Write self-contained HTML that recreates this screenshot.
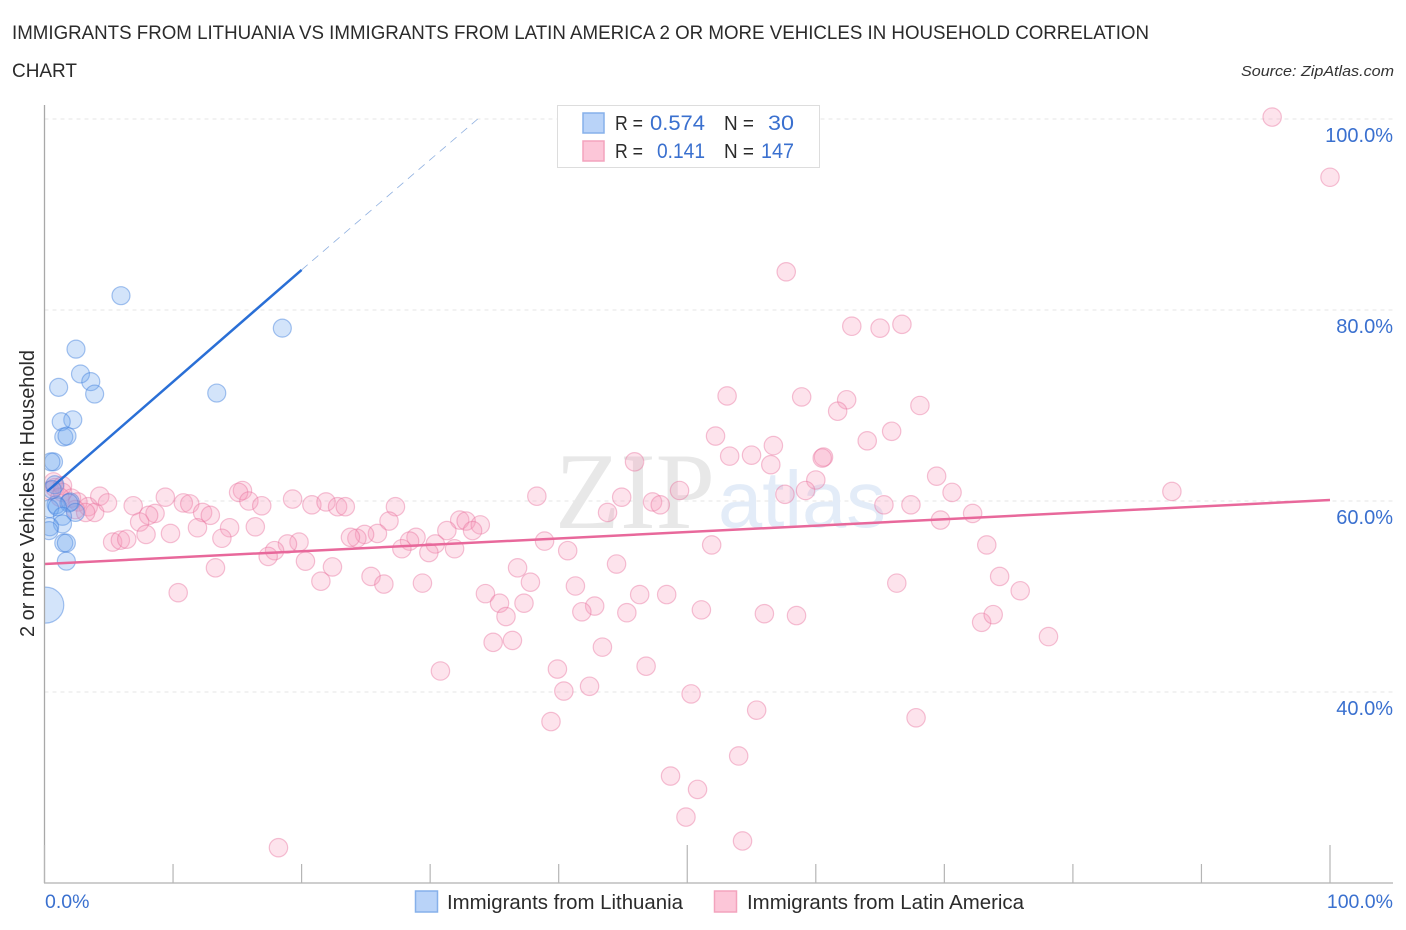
<!DOCTYPE html>
<html lang="en">
<head>
<meta charset="utf-8">
<title>Immigrants from Lithuania vs Immigrants from Latin America correlation chart</title>
<style>
html,body{margin:0;padding:0;background:#fff;}
svg{display:block;font-family:"Liberation Sans",sans-serif;}
</style>
</head>
<body>
<svg id="chart" xmlns="http://www.w3.org/2000/svg" width="1406" height="930" viewBox="0 0 1406 930">
  <defs><clipPath id="plot-clip"><rect x="44.5" y="100" width="1349" height="783"/></clipPath></defs>
  <text x="12" y="39" font-size="19.5" fill="#2b2b2b" textLength="1137" lengthAdjust="spacingAndGlyphs">IMMIGRANTS FROM LITHUANIA VS IMMIGRANTS FROM LATIN AMERICA 2 OR MORE VEHICLES IN HOUSEHOLD CORRELATION</text>
  <text x="12" y="77" font-size="19.5" fill="#2b2b2b" textLength="65" lengthAdjust="spacingAndGlyphs">CHART</text>
  <text x="1241" y="76" font-size="15" font-style="italic" fill="#333" textLength="153" lengthAdjust="spacingAndGlyphs">Source: ZipAtlas.com</text>
  <g id="grid"></g>
  <g>
    <text x="555" y="528" font-family="'Liberation Serif',serif" font-size="109" fill="#e8e8e8" textLength="160" lengthAdjust="spacingAndGlyphs">ZIP</text>
    <text x="718" y="527" font-size="80" fill="#e3ecf8" textLength="168" lengthAdjust="spacingAndGlyphs">atlas</text>
  </g>
  <g id="latin-points" clip-path="url(#plot-clip)"></g>
  <g id="lith-points" clip-path="url(#plot-clip)"></g>
  <g id="trends"></g>
  <g id="axes"></g>
  <text transform="translate(34,637) rotate(-90)" font-size="20" fill="#2b2b2b" textLength="287" lengthAdjust="spacingAndGlyphs">2 or more Vehicles in Household</text>
  <g>
    <rect x="557.5" y="105.5" width="262" height="62" fill="#fff" stroke="#ddd"/>
    <rect x="583" y="113" width="21" height="20" fill="#b9d3f8" stroke="#86b0ea" stroke-width="1.5"/>
    <rect x="583" y="141" width="21" height="20" fill="#fcc6d8" stroke="#f3a3bd" stroke-width="1.5"/>
    <g font-size="20" fill="#2b2b2b">
      <text x="615" y="130" textLength="28" lengthAdjust="spacingAndGlyphs">R =</text>
      <text x="724" y="130" textLength="30" lengthAdjust="spacingAndGlyphs">N =</text>
      <text x="615" y="158" textLength="28" lengthAdjust="spacingAndGlyphs">R =</text>
      <text x="724" y="158" textLength="30" lengthAdjust="spacingAndGlyphs">N =</text>
    </g>
    <g font-size="21" fill="#3a70cf">
      <text x="650" y="130" textLength="55" lengthAdjust="spacingAndGlyphs">0.574</text>
      <text x="768" y="130" textLength="26" lengthAdjust="spacingAndGlyphs">30</text>
      <text x="657" y="158" textLength="48" lengthAdjust="spacingAndGlyphs">0.141</text>
      <text x="761" y="158" textLength="33" lengthAdjust="spacingAndGlyphs">147</text>
    </g>
  </g>
  <g>
    <g>
      <rect x="415.5" y="891" width="22" height="21" fill="#b9d3f8" stroke="#86b0ea" stroke-width="1.5"/>
      <text x="447" y="909" font-size="20" fill="#2b2b2b" textLength="236" lengthAdjust="spacingAndGlyphs">Immigrants from Lithuania</text>
    </g>
    <g>
      <rect x="714.5" y="891" width="22" height="21" fill="#fcc6d8" stroke="#f3a3bd" stroke-width="1.5"/>
      <text x="747" y="909" font-size="20" fill="#2b2b2b" textLength="277" lengthAdjust="spacingAndGlyphs">Immigrants from Latin America</text>
    </g>
  </g>
</svg>
<script>
const xTickValues = [0,10,20,30,40,50,60,70,80,90,100];
const xTickLabels = ["0.0%","100.0%"];
const xLabelValues = [0,100];
const yTickValues = [100,80,60,40];
const yTickLabels = ["100.0%","80.0%","60.0%","40.0%"];

const lithX = [5.95,18.5,2.45,2.8,3.6,3.9,1.1,13.4,2.2,1.3,1.5,1.75,0.7,0.5,0.8,0.9,2.0,1.9,2.4,0.4,1.0,1.4,1.4,0.4,0.35,1.5,1.7,1.7,0.1,0.6];
const lithY = [81.5,78.1,75.9,73.3,72.5,71.2,71.9,71.3,68.5,68.3,66.7,66.8,64.1,64.1,61.7,59.6,59.9,59.8,58.8,59.2,59.4,58.4,57.6,57.3,56.9,55.6,55.6,53.7,49.1,61.2];
const lithWeight = [1,1,1,1,1,1,1,1,1,1,1,1,1,1,1,1,1,1,1,1,1,1,1,1,1,1,1,1,4,1];

const latinX = [95.5,100,57.7,62.8,65,66.7,53.1,58.9,62.4,61.7,68.1,52.2,65.9,64,56.7,55,53.3,60.6,60.5,56.5,45.9,69.4,60,49.4,57.6,59.2,70.6,87.7,44.9,47.3,47.9,43.8,38.3,65.3,67.4,69.7,72.2,
0.7,0.4,0.8,1.4,1.4,2.1,2.6,3.4,3.9,4.3,4.9,6.9,9.4,8.6,8.1,7.4,7.9,5.3,5.9,6.4,9.8,10.8,11.3,12.3,12.9,11.9,14.4,13.8,13.3,10.4,2.4,3.2,1.2,
15.4,15.1,15.9,16.9,16.4,19.3,20.8,21.9,22.8,23.4,27.3,26.8,25.9,24.9,24.3,23.8,19.8,18.9,17.9,17.4,20.3,22.4,21.5,25.4,26.4,29.4,32.3,32.8,33.9,31.3,33.3,28.9,28.4,27.8,30.4,29.9,31.9,38.9,36.8,37.8,34.3,35.4,37.3,35.9,34.9,36.4,
40.7,44.5,41.3,42.8,41.8,45.3,46.3,48.4,51.1,51.9,56,58.5,43.4,39.9,46.8,30.8,40.4,42.4,50.3,39.4,55.4,54,48.7,50.8,49.9,54.3,18.2,67.8,66.3,73.3,74.3,72.9,73.8,75.9,78.1];
const latinY = [100.2,93.9,84,78.3,78.1,78.5,71,70.9,70.6,69.4,70,66.8,67.3,66.3,65.8,64.8,64.7,64.6,64.5,63.8,64.1,62.6,62.2,61.1,60.7,61.1,60.9,61,60.4,59.9,59.6,58.8,60.5,59.6,59.6,58,58.7,
62,61.1,61.4,61.6,60.9,60.3,59.9,59.4,58.8,60.5,59.8,59.5,60.4,58.7,58.5,57.8,56.5,55.7,55.9,56,56.6,59.8,59.7,58.8,58.5,57.2,57.2,56.1,53,50.4,59.1,58.8,60.4,
61.1,60.9,60,59.5,57.3,60.2,59.6,59.9,59.4,59.4,59.4,57.9,56.6,56.5,56.1,56.2,55.7,55.5,54.8,54.2,53.7,53.1,51.6,52.1,51.3,51.4,58,57.9,57.5,56.9,56.9,56.2,55.8,55,55.5,54.6,55,55.8,53,51.5,50.3,49.3,49.3,47.9,45.2,45.4,
54.8,53.4,51.1,49,48.4,48.3,50.2,50.2,48.6,55.4,48.2,48,44.7,42.4,42.7,42.2,40.1,40.6,39.8,36.9,38.1,33.3,31.2,29.8,26.9,24.4,23.7,37.3,51.4,55.4,52.1,47.3,48.1,50.6,45.8];

const lithTrendX = [0.2,20];
const lithTrendY = [61,84.2];
const lithDashX = [20,33.7];
const lithDashY = [84.2,100];
const latinTrendX = [0,100];
const latinTrendY = [53.4,60.1];

const NS = "http://www.w3.org/2000/svg";
function sx(v){ return 44.5 + v * 12.855; }
function sy(v){ return 692 - (v - 40) * 9.55; }
function mk(tag, parent, attrs){
  const el = document.createElementNS(NS, tag);
  for (const k in attrs) el.setAttribute(k, attrs[k]);
  parent.appendChild(el);
  return el;
}

const grid = document.getElementById("grid");
yTickValues.forEach(function(v){
  const l = mk("line", grid, {x1:44.5, x2:1393, y1:sy(v), y2:sy(v), stroke:"#e6e6e6", "stroke-width":1, "stroke-dasharray":"4 4"});
  
  
});

const axes = document.getElementById("axes");
const yAxis = mk("line", axes, {x1:44.5, x2:44.5, y1:105, y2:883, stroke:"#a8a8a8", "stroke-width":1.3});


const xAxis = mk("line", axes, {x1:44, x2:1393, y1:883, y2:883, stroke:"#bdbdbd", "stroke-width":1.5});


xTickValues.forEach(function(v){
  const t = mk("line", axes, {x1:sx(v), x2:sx(v), y1:(v % 50 === 0 ? 845 : 864), y2:883, stroke:"#b5b5b5", "stroke-width":1.2});
  
  
});
xLabelValues.forEach(function(v, i){
  const t = mk("text", axes, {x:(v === 0 ? 45 : 1393), y:908, "font-size":19.5, fill:"#3a70cf", "text-anchor":(v === 0 ? "start" : "end")});
  t.textContent = xTickLabels[i];
  
  
});
yTickValues.forEach(function(v, i){
  const t = mk("text", axes, {x:1393, y:sy(v) + 23, "font-size":20, fill:"#3a70cf", "text-anchor":"end"});
  t.textContent = yTickLabels[i];
  
  
});

const latinGroup = document.getElementById("latin-points");
latinX.forEach(function(v, i){
  const c = mk("circle", latinGroup, {cx:sx(v), cy:sy(latinY[i]), r:9.2, fill:"rgba(246,150,183,0.27)", stroke:"rgba(232,110,155,0.42)", "stroke-width":1.2});
  
  
});
const lithGroup = document.getElementById("lith-points");
lithX.forEach(function(v, i){
  const c = mk("circle", lithGroup, {cx:sx(v), cy:sy(lithY[i]), r:9 * Math.sqrt(lithWeight[i]), fill:"rgba(110,165,240,0.3)", stroke:"rgba(60,125,220,0.45)", "stroke-width":1.2});
  
  
});

const trends = document.getElementById("trends");
const dash = mk("line", trends, {x1:sx(lithDashX[0]), y1:sy(lithDashY[0]), x2:sx(lithDashX[1]), y2:sy(lithDashY[1]), stroke:"#8fb0e0", "stroke-width":0.8, "stroke-dasharray":"8 6"});


const lithLine = mk("line", trends, {x1:sx(lithTrendX[0]), y1:sy(lithTrendY[0]), x2:sx(lithTrendX[1]), y2:sy(lithTrendY[1]), stroke:"#2a6fd6", "stroke-width":2.5});


const latinLine = mk("line", trends, {x1:sx(latinTrendX[0]), y1:sy(latinTrendY[0]), x2:sx(latinTrendX[1]), y2:sy(latinTrendY[1]), stroke:"#e8689b", "stroke-width":2.5});


</script>
</body>
</html>
